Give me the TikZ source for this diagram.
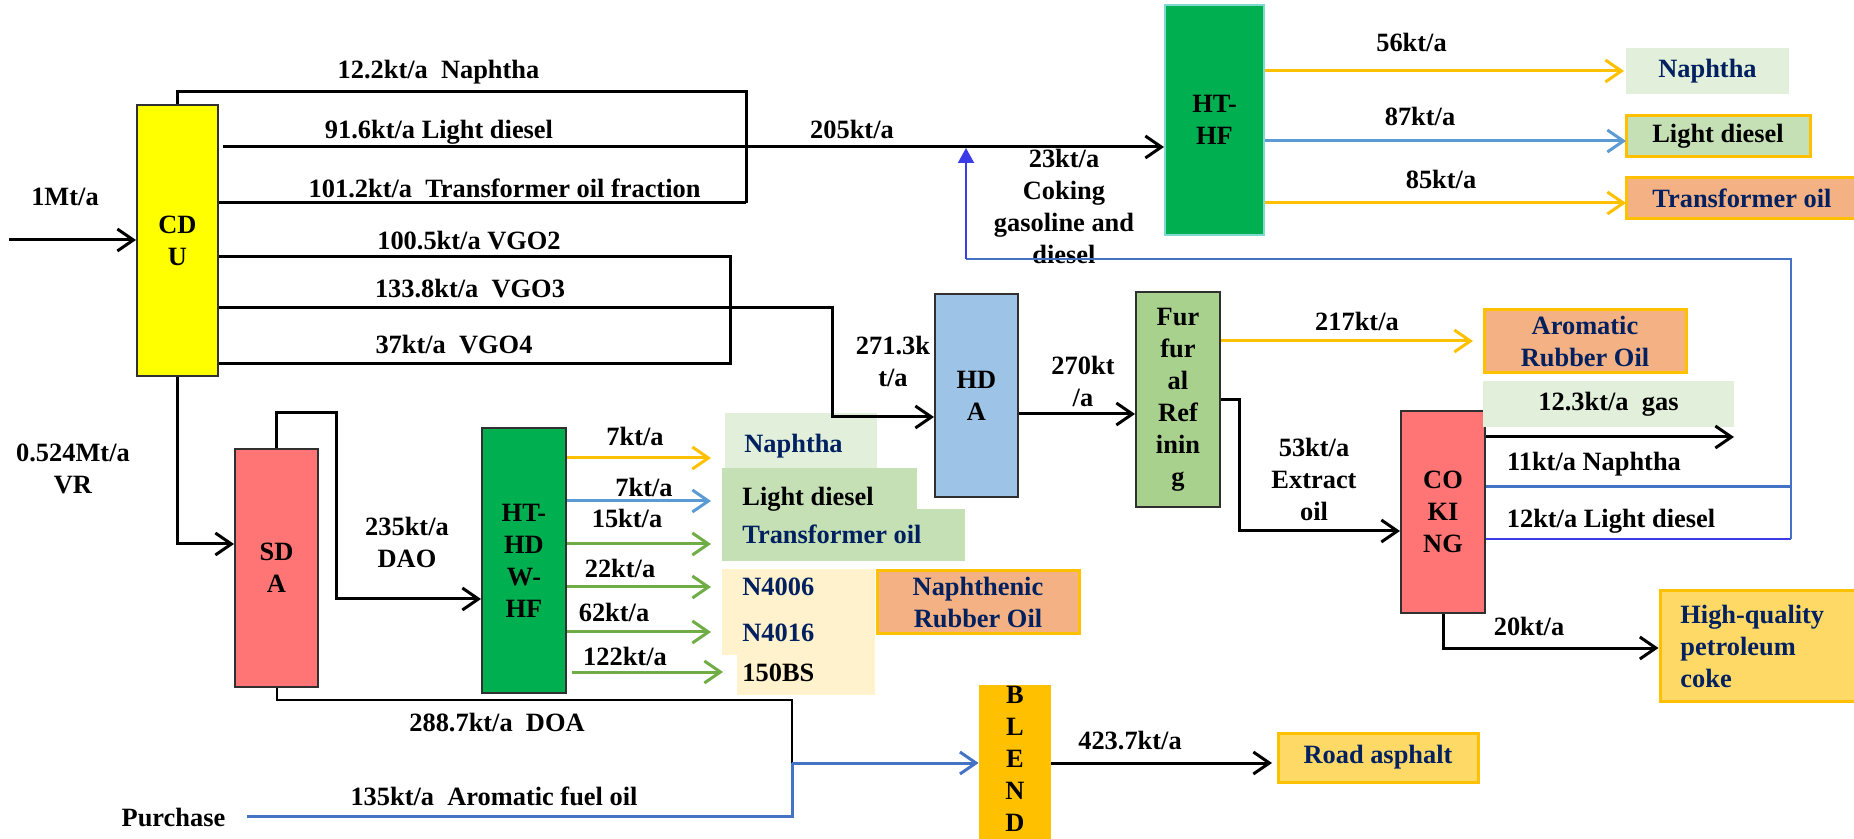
\documentclass[tikz,border=0pt]{standalone}
\usepackage{fontspec}
\setmainfont{Liberation Serif}
\usetikzlibrary{arrows.meta}

\definecolor{cduyellow}{HTML}{FFFF00}
\definecolor{unitgreen}{HTML}{00B050}
\definecolor{hthfedge}{HTML}{7FD9CF}
\definecolor{hdablue}{HTML}{9DC3E6}
\definecolor{furgreen}{HTML}{A9D18E}
\definecolor{unitred}{HTML}{FF7575}
\definecolor{amber}{HTML}{FFC000}
\definecolor{palegreen}{HTML}{E2EFDA}
\definecolor{midgreen}{HTML}{C5E0B4}
\definecolor{peach}{HTML}{F4B183}
\definecolor{gold}{HTML}{FFD966}
\definecolor{cream}{HTML}{FFF2CC}
\definecolor{navy}{HTML}{002060}
\definecolor{lineblue}{HTML}{5B9BD5}
\definecolor{linegreen}{HTML}{70AD47}
\definecolor{steel}{HTML}{4472C4}
\definecolor{vivid}{HTML}{3B3BE8}
\definecolor{boxline}{HTML}{303030}

\begin{document}
\begin{tikzpicture}[x=0.5pt,y=-0.5pt,
  every node/.style={font=\fontsize{13.2}{16}\selectfont\bfseries, inner sep=0pt},
  unitbox/.style={draw=boxline, line width=1pt, align=center},
  prodbox/.style={draw=amber, line width=1.5pt, align=center},
  plainbox/.style={align=center},
  lab/.style={anchor=base},
  mlab/.style={align=center, anchor=center},
  flow/.style={line width=1.5pt, line join=miter},
  thinflow/.style={line width=1pt},
  arr/.style={flow, -{Straight Barb[length=8pt,width=11pt]}},
  yel/.style={draw=amber},
  lbl/.style={draw=lineblue},
  grn/.style={draw=linegreen}
]
\useasboundingbox (0,0) rectangle (1854,839);

% ---------- process units ----------
\node[unitbox, fill=cduyellow, minimum width=40.5pt, minimum height=135.5pt] (cdu) at (177.5,240.5) {CD\\U};
\node[draw=hthfedge, line width=1pt, fill=unitgreen, align=center, minimum width=49.5pt, minimum height=115pt] (hthf) at (1214.5,120) {HT-\\HF};
\node[unitbox, fill=hdablue, minimum width=41.5pt, minimum height=101.5pt] (hda) at (976.5,395.5) {HD\\A};
\node[unitbox, fill=furgreen, minimum width=42pt, minimum height=107.5pt] (fur) at (1178,399.5) {Fur\\fur\\al\\Ref\\inin\\g};
\node[unitbox, fill=unitred, minimum width=41.5pt, minimum height=119pt] (sda) at (276.5,568) {SD\\A};
\node[unitbox, fill=unitgreen, minimum width=42pt, minimum height=132.5pt] (hdw) at (524,560.5) {HT-\\HD\\W-\\HF};
\node[unitbox, fill=unitred, minimum width=42pt, minimum height=101pt] (cok) at (1443,512) {CO\\KI\\NG};
\node[fill=amber, minimum width=36pt, minimum height=80pt] (blend) at (1015,765) {};
\node[align=center] (tBlend) at (1015,759) {B\\L\\E\\N\\D};

% ---------- product boxes ----------
\node[plainbox, fill=palegreen, text=navy, minimum width=81.5pt, minimum height=23pt] (pNapA) at (1707.5,71) {Naphtha};
\node[prodbox, fill=midgreen, minimum width=92pt, minimum height=20.5pt] (pLdA) at (1718,136.5) {Light diesel};
\node[prodbox, fill=peach, text=navy, minimum width=116pt, minimum height=20.5pt] (pToA) at (1742,198.5) {Transformer oil};
\node[prodbox, fill=peach, text=navy, minimum width=101pt, minimum height=31.5pt] (pArom) at (1585,341.5) {Aromatic\\Rubber Oil};
\node[plainbox, fill=palegreen, minimum width=125.5pt, minimum height=23pt] (pGas) at (1608.5,404) {12.3kt/a\ \ gas};
\node[prodbox, fill=gold, minimum width=100pt, minimum height=55pt] (pCoke) at (1760,646) {};
\node[anchor=west, align=left, text=navy] (tCoke) at (1680,646) {High-quality\\petroleum\\coke};
\node[prodbox, fill=gold, text=navy, minimum width=100pt, minimum height=24.5pt] (pRoad) at (1378,757.5) {Road asphalt};

\node[plainbox, fill=palegreen, minimum width=76pt, minimum height=27.5pt] (pNapB) at (801,440.5) {};
\node[plainbox, fill=midgreen, minimum width=97.5pt, minimum height=20.5pt] (pLdB) at (819.5,488.5) {};
\node[plainbox, fill=midgreen, minimum width=121.5pt, minimum height=26pt] (pToB) at (843.5,535) {};
\node[plainbox, fill=cream, minimum width=76.5pt, minimum height=43pt] (pN1) at (798.5,612) {};
\node[plainbox, fill=cream, minimum width=69pt, minimum height=20pt] (pN2) at (806,675) {};
\node[prodbox, fill=peach, text=navy, minimum width=101pt, minimum height=31.5pt] (pNaph) at (978,602.5) {Naphthenic\\Rubber Oil};

\node[lab, anchor=base west, text=navy] (tNapB) at (744,453) {Naphtha};
\node[lab, anchor=base west] (tLdB) at (742,506) {Light diesel};
\node[lab, anchor=base west, text=navy] (tToB) at (742,544) {Transformer oil};
\node[lab, anchor=base west, text=navy] (tN1) at (742,596) {N4006};
\node[lab, anchor=base west, text=navy] (tN2) at (742,641) {N4016};
\node[lab, anchor=base west] (tN3) at (742,682) {150BS};

% ---------- stream labels ----------
\node[lab] (l1) at (65,206) {1Mt/a};
\node[lab] (l2) at (438.5,79) {12.2kt/a\ \ Naphtha};
\node[lab] (l3) at (439,139) {91.6kt/a Light diesel};
\node[lab] (l4) at (504.6,198) {101.2kt/a\ \ Transformer oil fraction};
\node[lab] (l5) at (469,250) {100.5kt/a VGO2};
\node[lab] (l6) at (470,298) {133.8kt/a\ \ VGO3};
\node[lab] (l7) at (454,354) {37kt/a\ \ VGO4};
\node[lab] (l8) at (852,139) {205kt/a};
\node[mlab] (l9) at (1064,206) {23kt/a\\Coking\\gasoline and\\diesel};
\node[lab] (l10) at (1411.5,52) {56kt/a};
\node[lab] (l11) at (1420,126) {87kt/a};
\node[lab] (l12) at (1441,189) {85kt/a};
\node[mlab] (l13) at (893,361) {271.3k\\t/a};
\node[mlab] (l14) at (1083,381) {270kt\\/a};
\node[lab] (l15) at (1357,331) {217kt/a};
\node[mlab] (l16) at (1314,479) {53kt/a\\Extract\\oil};
\node[lab] (l17) at (1594,471) {11kt/a Naphtha};
\node[lab] (l18) at (1611,528) {12kt/a Light diesel};
\node[lab] (l19) at (1529,635) {20kt/a};
\node[lab] (l20) at (1130,749) {423.7kt/a};
\node[mlab] (l21) at (73,469) {0.524Mt/a\\VR};
\node[mlab] (l22) at (407,542) {235kt/a\\DAO};
\node[lab] (l23) at (635,446) {7kt/a};
\node[lab] (l24) at (644,497) {7kt/a};
\node[lab] (l25) at (627,528) {15kt/a};
\node[lab] (l26) at (620,578) {22kt/a};
\node[lab] (l27) at (614,622) {62kt/a};
\node[lab] (l28) at (625,666) {122kt/a};
\node[lab] (l29) at (497,731) {288.7kt/a\ \ DOA};
\node[lab] (l30) at (173.5,826) {Purchase};
\node[lab] (l31) at (494,805) {135kt/a\ \ Aromatic fuel oil};

% ---------- crude unit streams ----------
\coordinate (feed) at (9,240);
\draw[arr] (feed) -- (feed -| cdu.west);

\coordinate (jTop) at (746,92);
\coordinate (jBot) at (746,203);
\draw[flow] (cdu.north) |- (jTop) -- (jBot);
\draw[flow] (cdu.east |- jBot) -- (jBot);
\coordinate (ldStart) at (223,147);
\draw[arr] (ldStart) -- (ldStart -| hthf.west);

\coordinate (vR1) at (730,257);
\coordinate (vR2) at (730,364);
\draw[flow] (cdu.east |- vR1) -- (vR1) -- (vR2) -- (cdu.east |- vR2);
\coordinate (v3a) at (832,308);
\coordinate (v3b) at (832,417);
\draw[arr] (cdu.east |- v3a) -- (v3a) -- (v3b) -- (v3b -| hda.west);

% ---------- hydrotreater products ----------
\coordinate (oN) at (1624,71);
\coordinate (oL) at (1626,141);
\coordinate (oT) at (1626,203);
\draw[arr, yel] (hthf.east |- oN) -- (oN);
\draw[arr, lbl] (hthf.east |- oL) -- (oL);
\draw[arr, yel] (hthf.east |- oT) -- (oT);

% ---------- HDA, furfural, coking ----------
\coordinate (h2f) at (1018,414);
\draw[arr] (hda.east |- h2f) -- (h2f -| fur.west);
\coordinate (oArom) at (1473,341);
\draw[arr, yel] (fur.east |- oArom) -- (oArom);
\coordinate (fx1) at (1239,400);
\coordinate (fx2) at (1239,531);
\draw[arr] (fur.east |- fx1) -- (fx1) -- (fx2) -- (fx2 -| cok.west);

\coordinate (gasEnd) at (1734,437);
\draw[arr] (cok.east |- gasEnd) -- (gasEnd);
\coordinate (rB) at (1791,487);
\coordinate (rC) at (1791,539);
\coordinate (rT) at (1791,259);
\coordinate (lT) at (966,259);
\coordinate (lA) at (966,148);
\draw[line width=1.5pt, steel] (cok.east |- rB) -- (rB);
\draw[line width=1pt, vivid] (cok.east |- rC) -- (rC);
\draw[line width=1pt, steel] (rC) -- (rT) -- (lT);
\draw[line width=1pt, vivid, -{Triangle[length=7.5pt,width=8pt]}] (lT) -- (lA);

\coordinate (ck) at (1443,648);
\draw[arr] (cok.south) |- (ck -| pCoke.west);

% ---------- deasphalting and lube train ----------
\coordinate (cs) at (0,544);
\draw[arr] (cdu.south) |- (sda.west |- cs);
\coordinate (sl1) at (336,413);
\coordinate (sl2) at (336,599);
\draw[arr] (sda.north) |- (sl1) -- (sl2) -- (sl2 -| hdw.west);

\coordinate (o1) at (711,458);
\coordinate (o2) at (711,501);
\coordinate (o3) at (711,544);
\coordinate (o4) at (711,587);
\coordinate (o5) at (711,632);
\coordinate (o6s) at (572,672);
\coordinate (o6) at (723,672);
\draw[arr, yel] (hdw.east |- o1) -- (o1);
\draw[arr, lbl] (hdw.east |- o2) -- (o2);
\draw[arr, grn] (hdw.east |- o3) -- (o3);
\draw[arr, grn] (hdw.east |- o4) -- (o4);
\draw[arr, grn] (hdw.east |- o5) -- (o5);
\draw[arr, grn] (o6s) -- (o6);

% ---------- asphalt blending ----------
\coordinate (d1) at (792,700);
\coordinate (dj) at (792,763);
\draw[thinflow] (sda.south) |- (d1) -- (dj);
\coordinate (pu) at (247,816);
\draw[line width=1.5pt, steel] (pu) -- (pu -| dj) -- (dj);
\draw[line width=1.5pt, steel, -{Straight Barb[length=8pt,width=11pt]}] (dj) -- (dj -| blend.west);
\coordinate (rd) at (1272,763);
\draw[arr] (blend.east |- rd) -- (rd);
\end{tikzpicture}
\end{document}
